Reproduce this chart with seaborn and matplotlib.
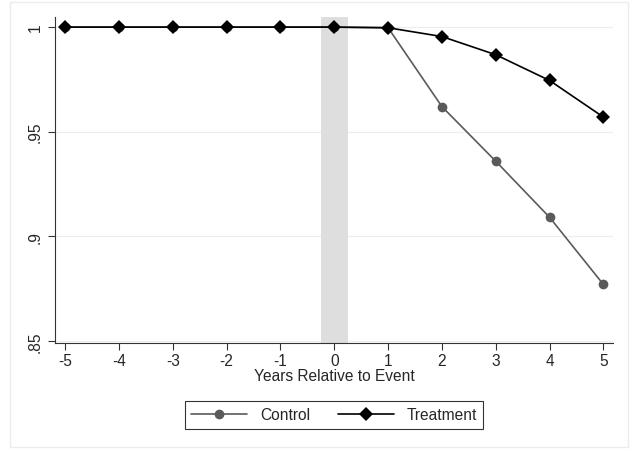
import numpy as np
import pandas as pd
import matplotlib
matplotlib.use("Agg")
import matplotlib.pyplot as plt
import seaborn as sns

years = [-5, -4, -3, -2, -1, 0, 1, 2, 3, 4, 5]
control = [1, 1, 1, 1, 1, 1, 0.9997, 0.9620, 0.9359, 0.9091, 0.8770]
treatment = [1, 1, 1, 1, 1, 1, 0.9997, 0.9955, 0.9868, 0.9745, 0.9570]
groups = ["Control", "Treatment"]
yticks = [0.85, 0.9, 0.95, 1.0]
ytick_labels = [".85", ".9", ".95", "1"]

df = pd.DataFrame({
    "year": years * 2,
    "value": control + treatment,
    "group": [groups[0]] * len(years) + [groups[1]] * len(years),
})

sns.set_style("white")
plt.rcParams["font.family"] = ["Liberation Sans", "DejaVu Sans"]
fs = 11.2

fig = plt.figure(figsize=(6.32, 4.52), dpi=100)
ax = fig.add_axes([0.087, 0.239, 0.883, 0.721])

# faint outer frame like Stata's graph region
fig.patches.append(plt.Rectangle((0.016, 0.008), 0.978, 0.985, transform=fig.transFigure,
                                 fill=False, edgecolor="#e8eef0", linewidth=1))

for yt in yticks:
    ax.axhline(yt, color="#e9f0f1", linewidth=0.9, zorder=0)
ax.axvspan(-0.25, 0.25, color="#dedede", linewidth=0, zorder=0.5)

sns.lineplot(data=df, x="year", y="value", hue="group", style="group",
             palette={"Control": "#5a5a5a", "Treatment": "#000000"},
             markers={"Control": "o", "Treatment": "D"}, dashes=False,
             markersize=7, linewidth=1.2, markeredgewidth=0, ax=ax)
for line in ax.lines:
    if line.get_marker() == "D":
        line.set_markersize(6.8)

ax.set_xlim(-5.19, 5.18)
ax.set_ylim(0.849, 1.0048)
ax.set_xticks(years)
ax.set_xticklabels([str(y) for y in years], fontsize=fs)
ax.set_yticks(yticks)
ax.set_yticklabels(ytick_labels, fontsize=fs, rotation=90, va="center")
ax.tick_params(axis="both", direction="out", length=5, width=0.8, color="#333333", pad=4,
               left=True, bottom=True)
ax.tick_params(axis="x", pad=2)
ax.set_xlabel("Years Relative to Event", fontsize=fs, labelpad=0)
ax.set_ylabel("")
for s in ["top", "right"]:
    ax.spines[s].set_visible(False)
for s in ["left", "bottom"]:
    ax.spines[s].set_color("#333333")
    ax.spines[s].set_linewidth(0.8)

handles, labels = ax.get_legend_handles_labels()
leg = ax.legend(handles, labels, loc="upper center", bbox_to_anchor=(0.5, -0.155), ncol=2,
                frameon=True, fancybox=False, edgecolor="#000000", fontsize=fs,
                handlelength=3.6, columnspacing=1.8, borderpad=0.4, handletextpad=0.8)
leg.get_frame().set_linewidth(0.8)

fig.savefig("out.png", dpi=100, facecolor="white")
